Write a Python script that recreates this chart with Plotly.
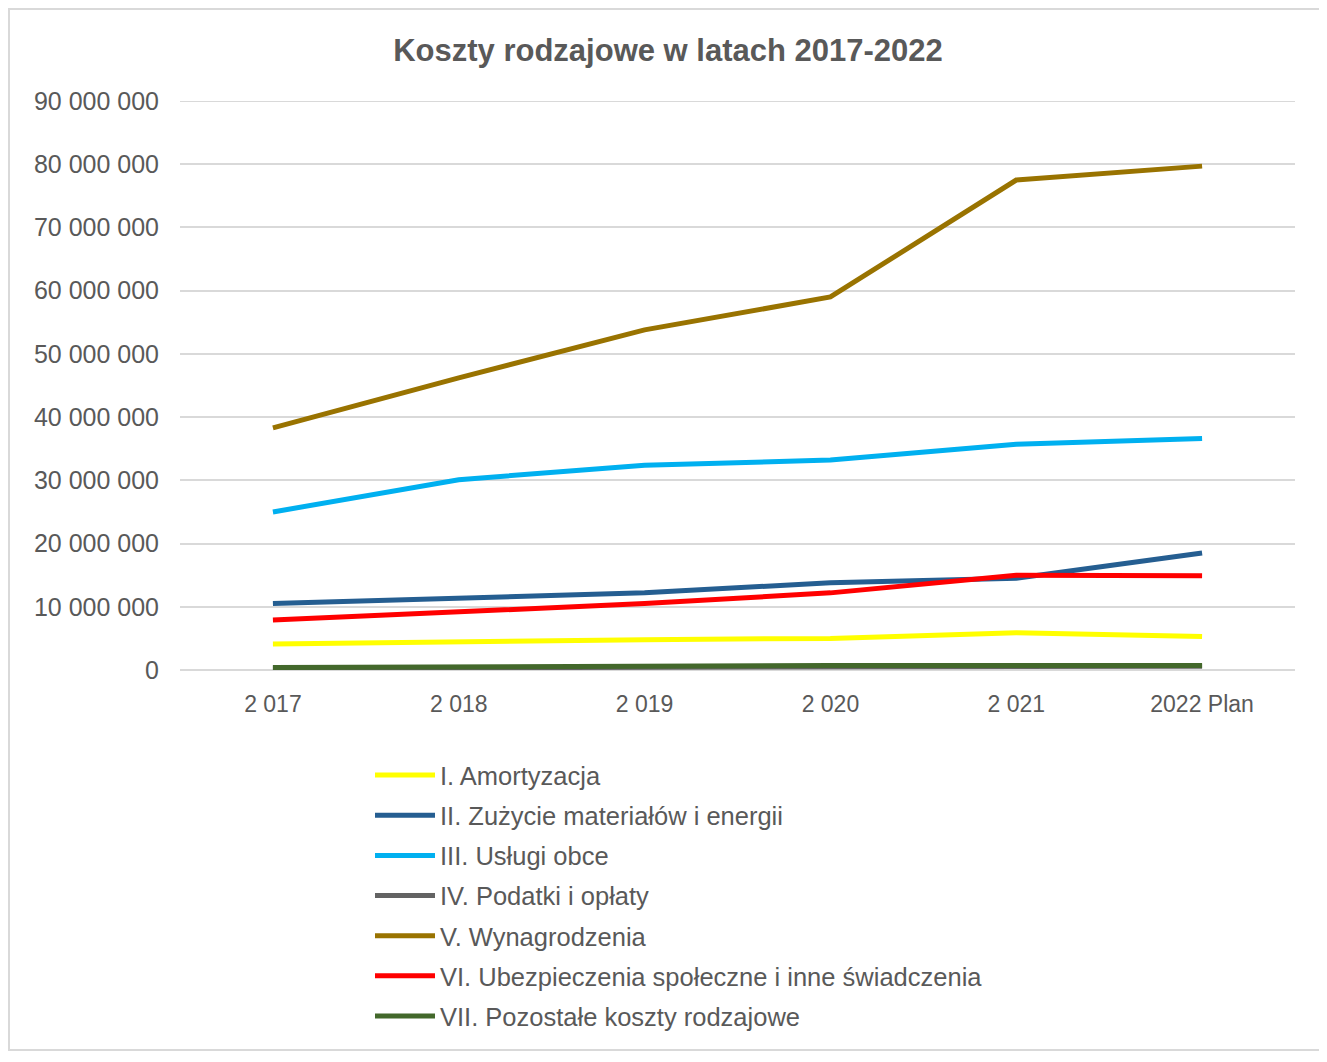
import plotly.graph_objects as go

categories = ["2 017", "2 018", "2 019", "2 020", "2 021", "2022 Plan"]

amortyzacja = [4.1e6, 4.5e6, 4.8e6, 5.0e6, 5.9e6, 5.3e6]
zuzycie = [10.5e6, 11.3e6, 12.2e6, 13.8e6, 14.5e6, 18.5e6]
uslugi = [25.0e6, 30.1e6, 32.4e6, 33.2e6, 35.7e6, 36.6e6]
podatki = [0.3e6, 0.35e6, 0.5e6, 0.55e6, 0.6e6, 0.6e6]
wynagrodzenia = [38.3e6, 46.2e6, 53.8e6, 59.0e6, 77.5e6, 79.7e6]
ubezpieczenia = [7.9e6, 9.2e6, 10.5e6, 12.2e6, 15.0e6, 14.9e6]
pozostale = [0.4e6, 0.5e6, 0.7e6, 0.7e6, 0.7e6, 0.7e6]

series_names = [
    "I. Amortyzacja",
    "II. Zużycie materiałów i energii",
    "III. Usługi obce",
    "IV. Podatki i opłaty",
    "V. Wynagrodzenia",
    "VI. Ubezpieczenia społeczne i inne świadczenia",
    "VII. Pozostałe koszty rodzajowe",
]
series_values = [amortyzacja, zuzycie, uslugi, podatki, wynagrodzenia, ubezpieczenia, pozostale]
colors = ["#FFFF00", "#255E91", "#00B0F0", "#636363", "#997300", "#FF0000", "#43682B"]

ytick_vals = [0, 10e6, 20e6, 30e6, 40e6, 50e6, 60e6, 70e6, 80e6, 90e6]

fig = go.Figure()
for i, (name, vals, col) in enumerate(zip(series_names, series_values, colors)):
    fig.add_trace(go.Scatter(x=categories, y=vals, name=name, mode="lines",
                             legendgroup=f"g{i}",
                             line=dict(color=col, width=5)))

OFF = 8
W, H = 1327 - 2 * OFF, 1062 - 2 * OFF
L, R, T, B = 180 - OFF, 1295 - OFF, 101 - OFF, 670 - OFF
pw, ph = R - L, B - T

def px2x(p):
    return (p - OFF - L) / pw

def py2y(p):
    return (B - (p - OFF)) / ph

fig.update_layout(
    width=W, height=H,
    margin=dict(l=L, r=W - R, t=T, b=H - B, pad=0, autoexpand=False),
    paper_bgcolor="white", plot_bgcolor="white",
    separators=", ",
    title=dict(text="<b>Koszty rodzajowe w latach 2017-2022</b>",
               x=(668 - OFF) / W, xanchor="center", y=1 - (50 - OFF) / H, yanchor="middle",
               font=dict(family="Liberation Sans, Arial", size=31, color="#595959")),
    xaxis=dict(type="category", range=[-0.5, 5.5], showgrid=False, showline=False,
               ticks="", zeroline=False, ticklabelstandoff=18,
               tickfont=dict(family="Liberation Sans, Arial", size=23, color="#595959")),
    yaxis=dict(range=[0, 90e6], tickvals=ytick_vals, tickformat=",d",
               showgrid=True, gridcolor="#D9D9D9", gridwidth=2, zeroline=True,
               zerolinecolor="#D9D9D9", zerolinewidth=2, showline=False, ticks="",
               ticklabelstandoff=20,
               tickfont=dict(family="Liberation Sans, Arial", size=25, color="#595959")),
    legend=dict(orientation="v", x=px2x(370), xanchor="left", y=py2y(752), yanchor="top",
                font=dict(family="Liberation Sans, Arial", size=25.5, color="#595959"),
                tracegroupgap=4, itemwidth=60, bgcolor="rgba(0,0,0,0)"),
    shapes=[dict(type="rect", xref="paper", yref="paper",
                 x0=px2x(9), x1=px2x(1325), y0=py2y(1050), y1=py2y(9),
                 line=dict(color="#D9D9D9", width=2), layer="below"),
            dict(type="line", xref="paper", yref="y", x0=0, x1=1, y0=90e6, y1=90e6,
                 line=dict(color="#D9D9D9", width=2), layer="below")],
)

fig.write_html("out.html")
